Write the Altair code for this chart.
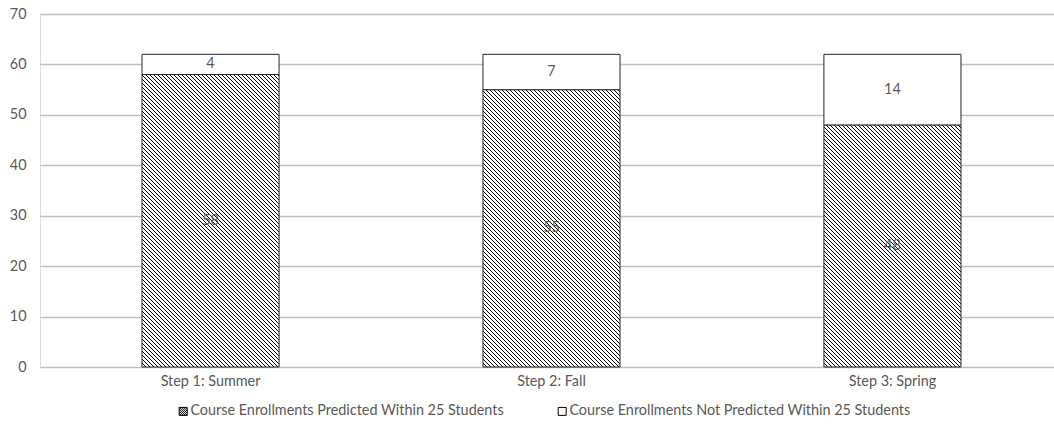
import math

import altair as alt
import pandas as pd

# Values per enrollment step
categories = ["Step 1: Summer", "Step 2: Fall", "Step 3: Spring"]
predicted = [58, 55, 48]
not_predicted = [4, 7, 14]
series = [
    "Course Enrollments Predicted Within 25 Students",
    "Course Enrollments Not Predicted Within 25 Students",
]
y_ticks = [0, 10, 20, 30, 40, 50, 60, 70]

# Layout of the plot area
W, H = 1014, 353
Y_MAX = 70
PAD_INNER, PAD_OUTER, ALIGN = 0.598, 0.286, 0.523
FONT = "Lato"
FONT_SIZE = 14.4
TEXT_COLOR = "#595959"
GRID_COLOR = "#bfbfbf"
EDGE_COLOR = "#262626"

step = W / (len(categories) - PAD_INNER + 2 * PAD_OUTER)
band_w = step * (1 - PAD_INNER)


def hatch(value, period=4.0, ink=0.22):
    """Diagonal (top-left to bottom-right) hatching built from a hard-stop linear gradient.

    The gradient runs from the bottom-left corner along the 45-degree normal and is
    stretched so that one stripe repeats every `period` pixels horizontally.
    """
    h = value / Y_MAX * H
    r = h / band_w
    a = (1 + r) / (1 + r * r)          # reaches the top-right corner exactly
    n = math.ceil((band_w + h) / period)
    a *= n * period / (band_w + h)     # stretch so the stripe period is exact
    stops = []
    for k in range(n):
        s, m, e = k / n, (k + ink) / n, (k + 1) / n
        stops += [
            alt.GradientStop(color="#000000", offset=s),
            alt.GradientStop(color="#000000", offset=m),
            alt.GradientStop(color="#ffffff", offset=m),
            alt.GradientStop(color="#ffffff", offset=e),
        ]
    return alt.LinearGradient(gradient="linear", stops=stops, x1=0, y1=1, x2=a, y2=1 - a * r)


df = pd.DataFrame({"category": categories, "predicted": predicted, "not_predicted": not_predicted})
df["total"] = df["predicted"] + df["not_predicted"]
df["mid_pred"] = df["predicted"] / 2
df["mid_not"] = df["predicted"] + df["not_predicted"] / 2

long_df = pd.DataFrame({
    "category": categories * 2,
    "series": [series[0]] * 3 + [series[1]] * 3,
    "value": predicted + not_predicted,
})

x_scale = alt.Scale(domain=categories, paddingInner=PAD_INNER, paddingOuter=PAD_OUTER, align=ALIGN)
y_scale = alt.Scale(domain=[0, Y_MAX], nice=False)

x_axis = alt.Axis(labelAngle=0, domain=False, ticks=False, grid=False, labelPadding=7,
                  labelFont=FONT, labelFontSize=FONT_SIZE, labelColor=TEXT_COLOR)
y_axis = alt.Axis(values=y_ticks, domain=False, ticks=False, labelPadding=14,
                  labelFont=FONT, labelFontSize=FONT_SIZE, labelColor=TEXT_COLOR,
                  gridColor=GRID_COLOR, gridWidth=1.5)


def xenc():
    return alt.X("category:N", scale=x_scale, sort=categories, title=None, axis=x_axis)


def yenc(field):
    return alt.Y(field, scale=y_scale, title=None, axis=y_axis)


base = alt.Chart(df)

# Base segments: one layer per bar so each hatch keeps a 45-degree angle
hatched = [
    base.transform_filter(alt.datum.category == cat)
    .mark_bar(fill=hatch(val), stroke=EDGE_COLOR, strokeWidth=1)
    .encode(x=xenc(), y=yenc("predicted:Q"))
    for cat, val in zip(categories, predicted)
]

# Top segments
upper = base.mark_bar(fill="#ffffff", stroke=EDGE_COLOR, strokeWidth=1).encode(
    x=xenc(), y=yenc("predicted:Q"), y2="total:Q"
)

label_pred = base.mark_text(font=FONT, fontSize=FONT_SIZE, color=TEXT_COLOR).encode(
    x=xenc(), y=yenc("mid_pred:Q"), text="predicted:Q"
)
label_not = base.mark_text(font=FONT, fontSize=FONT_SIZE, color=TEXT_COLOR).encode(
    x=xenc(), y=yenc("mid_not:Q"), text="not_predicted:Q"
)

# Legend symbols: hatched square and plain square
square_path = "M-1,-1H1V1H-1Z"
hatch_lines = "".join(
    f"M{max(-1, -1 - c):.2f},{max(-1, -1 - c) + c:.2f}L{min(1, 1 - c):.2f},{min(1, 1 - c) + c:.2f}"
    for c in [-1.5, -1.0, -0.5, 0.0, 0.5, 1.0, 1.5]
)
hatch_path = square_path + hatch_lines

legend_layer = alt.Chart(long_df).mark_point(opacity=0, filled=False).encode(
    x=xenc(),
    y=yenc("value:Q"),
    shape=alt.Shape(
        "series:N",
        scale=alt.Scale(domain=series, range=[hatch_path, square_path]),
        legend=alt.Legend(
            title=None, orient="none", direction="horizontal", legendX=136, legendY=390,
            symbolSize=64, symbolOpacity=1, symbolFillColor="#ffffff", symbolStrokeColor="#000000",
            symbolStrokeWidth=1, labelFont=FONT, labelFontSize=FONT_SIZE, labelColor=TEXT_COLOR,
            labelLimit=0, columnPadding=51, labelOffset=0,
        ),
    ),
)

chart = (
    alt.layer(*hatched, upper, label_pred, label_not, legend_layer)
    .properties(
        width=W, height=H,
        autosize=alt.AutoSizeParams(type="none"),
        padding={"left": 40, "top": 14, "right": 0, "bottom": 64},
    )
    .configure_view(strokeWidth=0)
    .configure(background="#ffffff")
)

chart.save("out.html", embed_options={"renderer": "svg", "actions": False})
